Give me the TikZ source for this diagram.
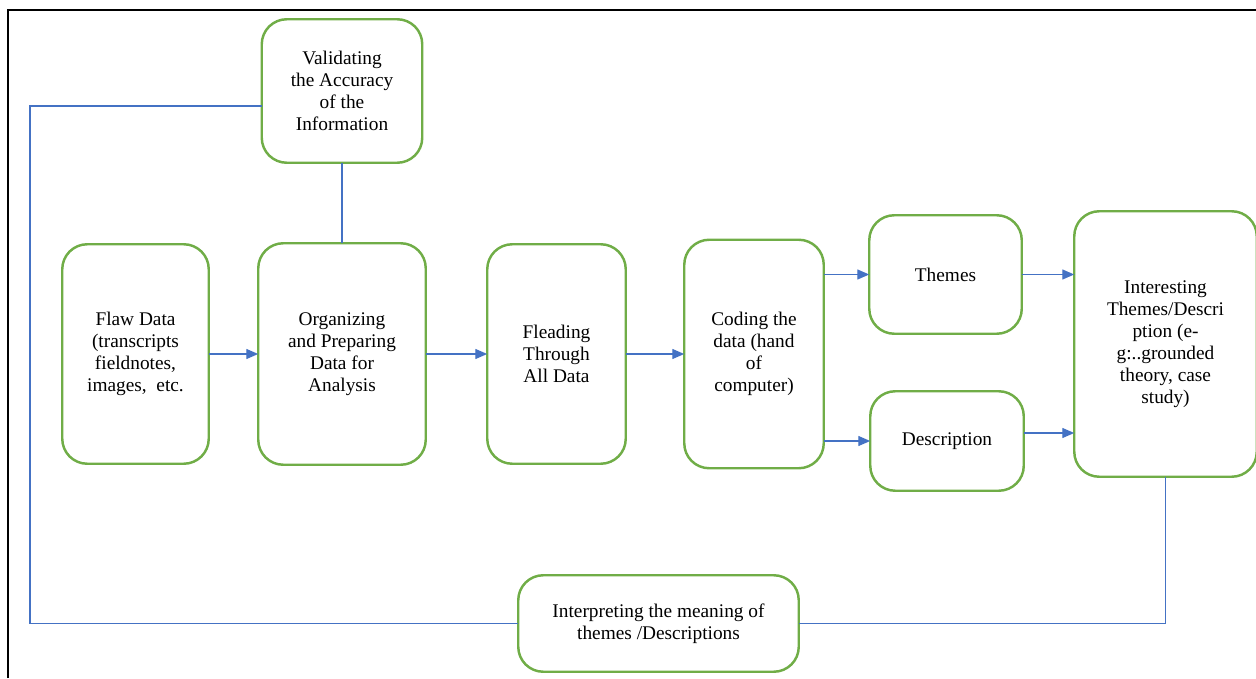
\documentclass[tikz,border=0pt]{standalone}
\usepackage{fontspec}
\setmainfont{Liberation Serif}
\usetikzlibrary{positioning}
\usetikzlibrary{arrows.meta}
\definecolor{boxgreen}{HTML}{70AD47}
\definecolor{linkblue}{HTML}{4472C4}
\tikzstyle{stage} = [draw=boxgreen, line width=1.4pt, rounded corners=0.5cm, align=center, inner sep=2pt, outer sep=0pt, font=\fontsize{11}{12.5}\selectfont]

\begin{document}
\begin{tikzpicture}[flow/.style={draw=linkblue, line width=0.8pt, -{Triangle[length=0.24cm,width=0.2cm]}},
                    link/.style={draw=linkblue, line width=0.8pt}]
\useasboundingbox (0,0) rectangle (25.12,13.56);
%\draw [help lines] (0,0) grid (25,13);

% Frame
\draw[line width=1pt] (0.16,0) -- (0.16,13.36) -- (25.12,13.36);

% Define nodes
\node[stage, minimum width=2.93cm, minimum height=4.39cm] at (2.71,6.48) (flaw) {Flaw Data\\(transcripts\\fieldnotes,\\images,\ \ etc.};
\node[stage, minimum width=3.35cm, minimum height=4.43cm, right = 0.99cm of flaw] (org) {Organizing\\and Preparing\\Data for\\Analysis};
\node[stage, minimum width=3.21cm, minimum height=2.87cm, above = 1.61cm of org] (valid) {Validating\\the Accuracy\\of the\\Information};
\node[stage, minimum width=2.77cm, minimum height=4.39cm, right = 1.23cm of org] (read) {Fleading\\Through\\All Data};
\node[stage, minimum width=2.79cm, minimum height=4.57cm, right = 1.17cm of read] (code) {Coding the\\data (hand\\of\\computer)};

\node[stage, minimum width=3.05cm, minimum height=2.37cm, right = 0.91cm of code, yshift=1.59cm] (themes) {Themes};
\node[stage, minimum width=3.07cm, minimum height=1.99cm, right = 0.93cm of code, yshift=-1.74cm] (desc) {Description};
\node[stage, minimum width=3.65cm, minimum height=5.31cm, right = 1.05cm of themes, yshift=-1.39cm] (inter) {Interesting\\Themes/Descri\\ption (e-\\g:..grounded\\theory, case\\study)};

\node[stage, minimum width=5.61cm, minimum height=1.93cm] at (13.17,1.09) (interp) {Interpreting the meaning of\\themes /Descriptions};

\coordinate (loop) at (0.60,0);

% Edges
\draw[flow] (flaw.east) -- (flaw.east -| org.west);
\draw[flow] (org.east) -- (org.east -| read.west);
\draw[flow] (read.east) -- (read.east -| code.west);
\draw[flow] (themes.west -| code.east) -- (themes.west);
\draw[flow] (desc.west -| code.east) -- (desc.west);
\draw[flow] (themes.east) -- (themes.east -| inter.west);
\draw[flow] ([yshift=0.16cm]desc.east) -- ([yshift=0.16cm]desc.east -| inter.west);

\draw[link] (valid) -- (org);
\draw[link] ([yshift=-0.3cm]valid.west) -| (loop |- interp.west) -- (interp.west);
\draw[link] (inter.south) |- (interp.east);
\end{tikzpicture}
\end{document}
